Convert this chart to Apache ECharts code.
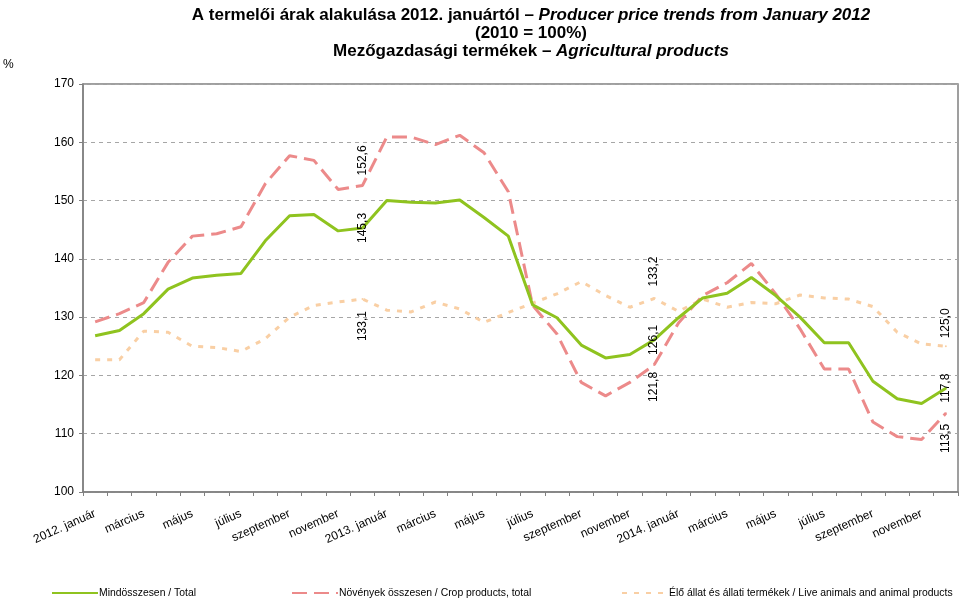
<!DOCTYPE html>
<html>
<head>
<meta charset="utf-8">
<script src="https://cdn.jsdelivr.net/npm/echarts@6/dist/echarts.min.js"></script>
<style>html,body{margin:0;padding:0;background:#fff;}#c{width:960px;height:601px;}</style>
</head>
<body>
<div id="c"></div>
<script>
var categories = [
  '2012. január','február','március','április','május','június','július','augusztus','szeptember','október','november','december',
  '2013. január','február','március','április','május','június','július','augusztus','szeptember','október','november','december',
  '2014. január','február','március','április','május','június','július','augusztus','szeptember','október','november','december'
];
var totalValues = [126.8,127.7,130.6,134.8,136.7,137.2,137.5,143.1,147.4,147.6,144.8,145.3,
  150.0,149.7,149.6,150.1,147.1,143.9,132.1,129.9,125.2,123.0,123.6,126.1,
  129.9,133.3,134.1,136.8,133.7,130.0,125.6,125.6,119.0,116.0,115.2,117.8];
var cropValues = [129.2,130.6,132.5,139.4,143.9,144.3,145.5,152.9,157.7,156.9,151.9,152.6,
  160.9,160.9,159.6,161.2,158.2,151.5,132.0,127.1,118.8,116.5,118.8,121.8,
  129.0,133.7,135.9,139.2,134.0,128.0,121.1,121.1,112.0,109.5,109.0,113.5];
var animalValues = [122.7,122.7,127.6,127.4,125.0,124.8,124.1,126.3,130.0,132.0,132.6,133.1,
  131.2,130.9,132.6,131.4,129.1,130.8,132.4,134.0,136.1,133.7,131.7,133.2,
  131.0,133.1,131.7,132.5,132.3,133.8,133.3,133.1,131.8,127.4,125.4,125.0];
var seriesNames = ['Mindösszesen / Total','Növények összesen / Crop products, total','Élő állat és állati termékek / Live animals and animal products'];
var yTicks = {min:100, max:170, interval:10};
var labelIdx = [11, 23, 35];

function fmt(v){ return v.toFixed(1).replace('.', ','); }
function build(values, shifts){
  return values.map(function(v, i){
    var k = labelIdx.indexOf(i);
    if (k < 0) return v;
    return {
      value: v, symbol: 'circle', symbolSize: 2,
      label: {show: true, position: 'inside', rotate: 90, align: 'center', verticalAlign: 'middle',
        offset: [shifts[k], 0], formatter: fmt(v), color: '#000', fontSize: 12, fontFamily: 'Liberation Sans, Arial, sans-serif'}
    };
  });
}

var chart = echarts.init(document.getElementById('c'), null, {renderer: 'canvas'});
var ff = 'Liberation Sans, Arial, sans-serif';
var legendBase = {top: 583, itemWidth: 46, itemHeight: 8, itemGap: 0, itemStyle: {opacity: 0},
  textStyle: {fontFamily: ff, fontSize: 10.4, color: '#000', padding: [0,0,0,-4]}};
chart.setOption({
  animation: false,
  backgroundColor: '#fff',
  title: [{
    text: '{b|A termelői árak alakulása 2012. januártól – }{i|Producer price trends from January 2012}\n{b|(2010 = 100%)}\n{b|Mezőgazdasági termékek – }{i|Agricultural products}',
    left: 526, top: 1, textAlign: 'center',
    textStyle: {
      lineHeight: 18,
      rich: {
        b: {fontFamily: ff, fontWeight: 'bold', fontSize: 17, color: '#000', lineHeight: 18},
        i: {fontFamily: ff, fontWeight: 'bold', fontStyle: 'italic', fontSize: 17, color: '#000', lineHeight: 18}
      }
    }
  }, {
    text: '%', left: -2, top: 54,
    textStyle: {fontFamily: ff, fontSize: 12, fontWeight: 'normal', color: '#000'}
  }],
  legend: [
    Object.assign({data: [seriesNames[0]], left: 46}, legendBase),
    Object.assign({data: [seriesNames[1]], left: 286}, legendBase),
    Object.assign({data: [seriesNames[2]], left: 616}, legendBase)
  ],
  grid: {left: 83, right: 2, top: 84, bottom: 109, show: true, borderColor: '#808080', borderWidth: 1.5, backgroundColor: 'transparent'},
  xAxis: {
    type: 'category', data: categories, boundaryGap: true,
    axisLine: {lineStyle: {color: '#808080', width: 1.5}},
    axisTick: {show: true, interval: 0, length: 4, lineStyle: {color: '#808080'}},
    axisLabel: {interval: 1, rotate: 24, margin: 21, color: '#000', fontFamily: ff, fontSize: 12},
    splitLine: {show: false}
  },
  yAxis: {
    type: 'value', min: yTicks.min, max: yTicks.max, interval: yTicks.interval,
    axisLine: {show: true, lineStyle: {color: '#808080', width: 1.5}},
    axisTick: {show: true, length: 4, lineStyle: {color: '#808080'}},
    axisLabel: {color: '#000', fontFamily: ff, fontSize: 12, margin: 9},
    splitLine: {show: true, lineStyle: {color: '#a6a6a6', type: [4, 4], width: 1}}
  },
  series: [
    {name: seriesNames[1], type: 'line', symbol: 'none', data: build(cropValues, [25, -22, -25]),
      itemStyle: {color: '#ec8a8a'}, lineStyle: {color: '#ec8a8a', width: 3, type: [15, 7]}, z: 3},
    {name: seriesNames[2], type: 'line', symbol: 'none', data: build(animalValues, [-27, 27, 23]),
      itemStyle: {color: '#f9cfa4'}, lineStyle: {color: '#f9cfa4', width: 3, type: [5, 7]}, z: 2},
    {name: seriesNames[0], type: 'line', symbol: 'none', data: build(totalValues, [0, 0, 0]),
      itemStyle: {color: '#8fc31f'}, lineStyle: {color: '#8fc31f', width: 3}, z: 4}
  ]
});
</script>
</body>
</html>
